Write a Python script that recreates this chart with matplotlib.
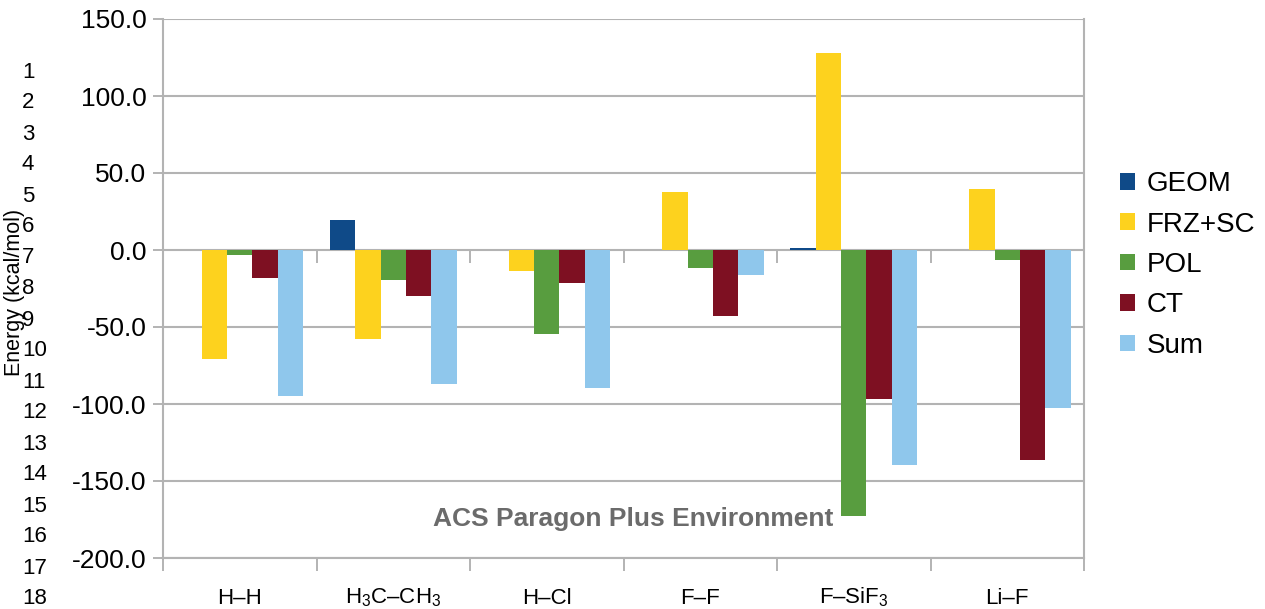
import numpy as np
import matplotlib
matplotlib.use("Agg")
import matplotlib.pyplot as plt

plt.rcParams['font.family'] = ['Liberation Sans', 'DejaVu Sans']
plt.rcParams['mathtext.fontset'] = 'custom'
plt.rcParams['mathtext.rm'] = 'Liberation Sans'
plt.rcParams['mathtext.it'] = 'Liberation Sans'

categories = ['H–H', 'H$_3$C–CH$_3$', 'H–Cl', 'F–F', 'F–SiF$_3$', 'Li–F']
series_names = ['GEOM', 'FRZ+SC', 'POL', 'CT', 'Sum']
geom = [0.0, 19.6, 0.0, 0.0, 1.0, 0.0]
frz_sc = [-70.9, -57.7, -13.8, 37.9, 128.1, 39.6]
pol = [-3.0, -19.6, -54.7, -11.8, -172.7, -6.5]
ct = [-18.0, -29.7, -21.5, -42.9, -96.7, -136.5]
total = [-94.6, -87.0, -89.8, -16.4, -139.8, -102.7]
yticks = [150, 100, 50, 0, -50, -100, -150, -200]
line_numbers = [str(n) for n in range(1, 19)]

colors = ['#0f4a88', '#fdd21e', '#589d3f', '#7e1022', '#8fc7ec']
values = [geom, frz_sc, pol, ct, total]

fig = plt.figure(figsize=(12.65, 6.09), dpi=100)
ax = fig.add_axes([163 / 1265, 1 - 558 / 609, (1084 - 163) / 1265, (558 - 19) / 609])

x = np.arange(len(categories))
w = 0.165
for i, (name, vals, c) in enumerate(zip(series_names, values, colors)):
    ax.bar(x + (i - 2) * w, vals, width=w, color=c, label=name, zorder=3)

grid_c = '#b3b3b3'
ax.set_xlim(-0.5, len(categories) - 0.5)
ax.set_ylim(-200, 150)
ax.set_yticks(yticks)
ax.set_yticklabels([f'{v:.1f}' for v in yticks])
ax.yaxis.grid(True, color=grid_c, linewidth=1.5, zorder=0)
ax.set_axisbelow(True)

ax.set_xticks(x)
ax.set_xticklabels(categories)
ax.set_xticks(np.arange(len(categories) + 1) - 0.5, minor=True)
ax.tick_params(axis='x', which='major', length=0, pad=33, labelsize=16)
ax.tick_params(axis='x', which='minor', length=9, width=1.4, color=grid_c)
ax.tick_params(axis='y', length=7, width=1.4, color=grid_c, pad=5, labelsize=19)
for lab in ax.get_xticklabels():
    lab.set_verticalalignment('baseline')

for s in ['top']:
    ax.spines[s].set_visible(False)
for s in ['left', 'right', 'bottom']:
    ax.spines[s].set_color(grid_c)
    ax.spines[s].set_linewidth(1.5)

# ticks on the zero line
sec = ax.secondary_xaxis(200 / 350)
sec.set_alignment('bottom')
sec.set_xticks(np.arange(len(categories) + 1) - 0.5)
sec.tick_params(axis='x', length=9, width=1.4, color=grid_c, labelbottom=False, labeltop=False)
for s in sec.spines.values():
    s.set_visible(False)

leg = ax.legend(loc='center left', bbox_to_anchor=(1120 / 1265, 1 - 265 / 609),
                bbox_transform=fig.transFigure, frameon=False, fontsize=20,
                handlelength=0.54, handleheight=0.54, handletextpad=0.43,
                labelspacing=0.52, borderaxespad=0, borderpad=0)

fig.text(15 / 1265, 1 - 292 / 609, 'Energy (kcal/mol)', rotation=90, fontsize=15.5,
         ha='center', va='center')

for k, t in enumerate(line_numbers):
    fig.text(22 / 1265, 1 - (72 + k * 31.0) / 609, t, fontsize=16, ha='left', va='center')

fig.text(633 / 1265, 1 - 519 / 609, 'ACS Paragon Plus Environment', fontsize=19,
         fontweight='bold', color='#6b6b6b', ha='center', va='center')

fig.savefig('out.png', dpi=100)
